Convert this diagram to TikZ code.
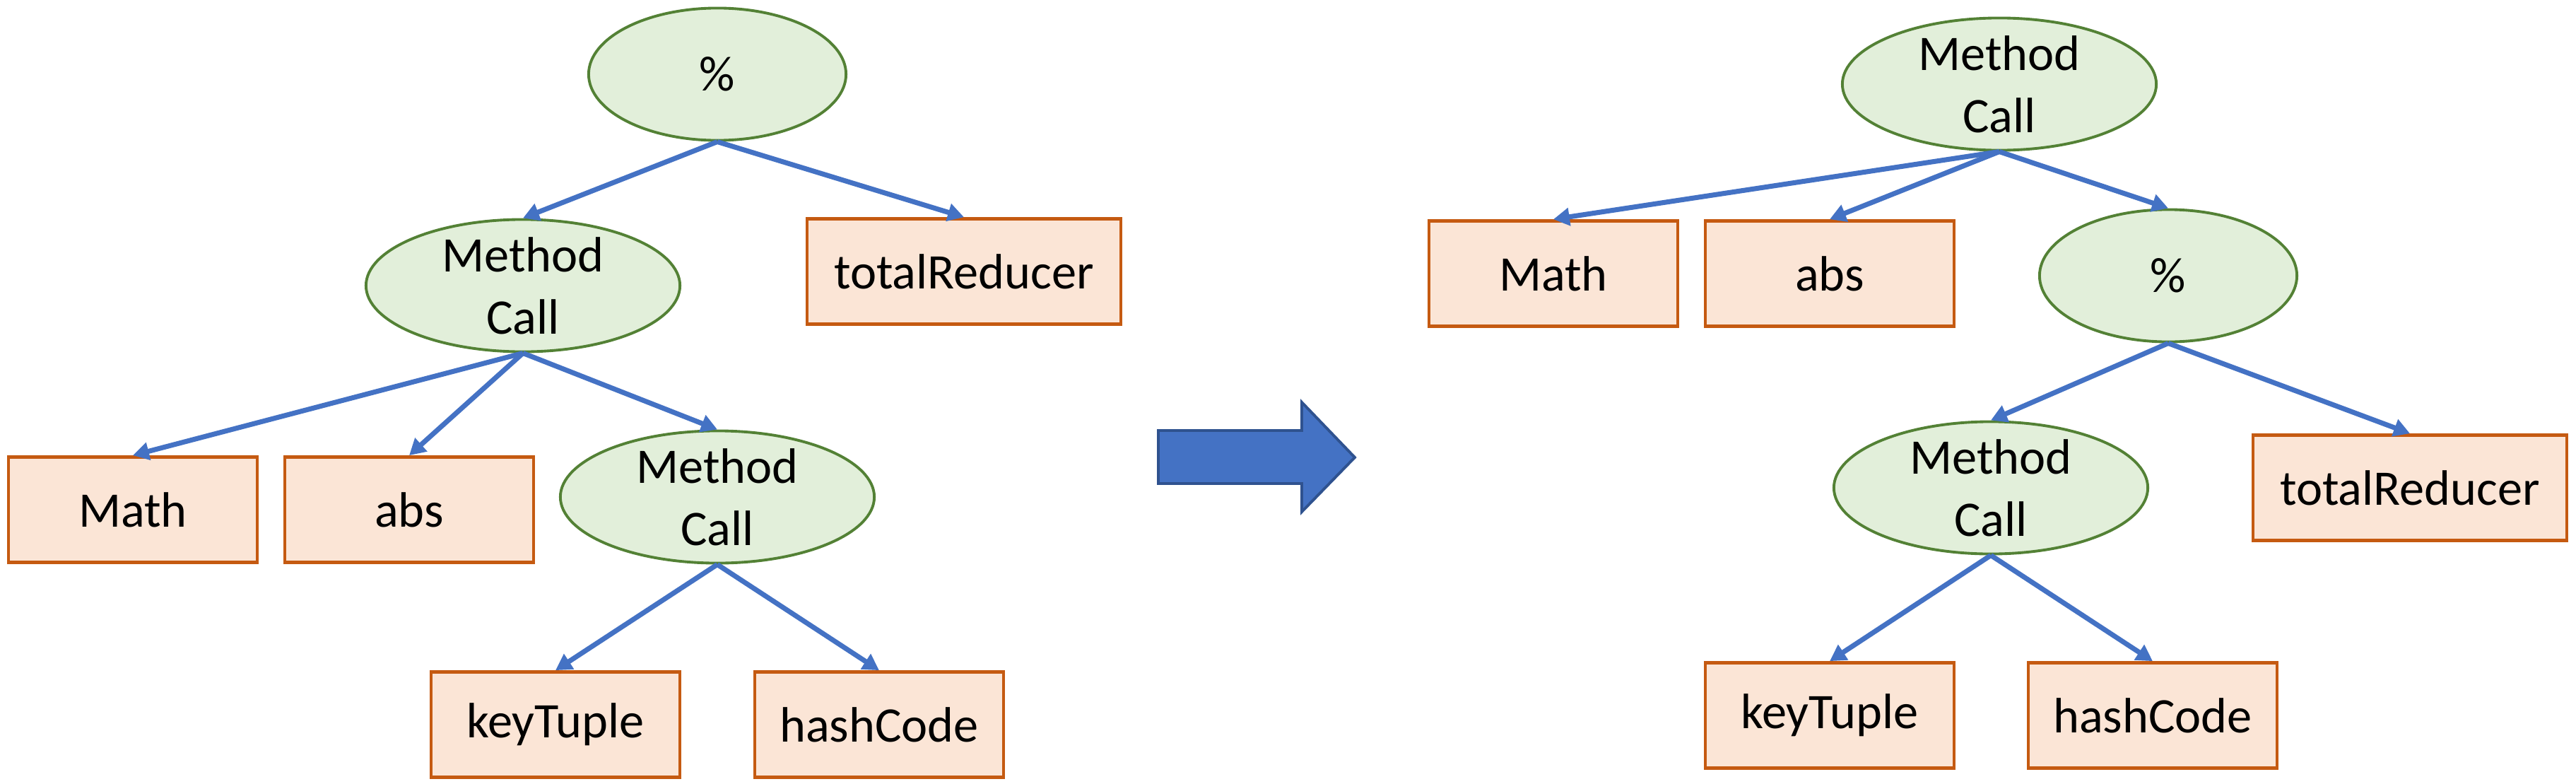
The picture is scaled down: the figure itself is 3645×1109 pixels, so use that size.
\documentclass[tikz,border=0pt]{standalone}
\usepackage{fontspec}
\setmainfont{Carlito}
\usetikzlibrary{arrows.meta}
\usetikzlibrary{shapes.geometric}
\definecolor{opfill}{HTML}{E2EFDA}
\definecolor{opline}{HTML}{538135}
\definecolor{leaffill}{HTML}{FBE5D6}
\definecolor{leafline}{HTML}{C55A11}
\definecolor{edgeblue}{HTML}{4472C4}
\definecolor{bigline}{HTML}{2F528F}

\begin{document}
\begin{tikzpicture}[x=0.01cm,y=-0.01cm,->,>={Triangle[length=6.5pt,width=7pt]}]
		\tikzset{op/.style = {shape=ellipse, draw=opline, fill=opfill, line width=1.1pt, minimum width=4.44cm, minimum height=1.87cm, inner sep=0pt},
			pct/.style = {op, minimum width=3.64cm},
			lbl/.style = {align=center, inner sep=0pt, font=\fontsize{20}{25}\selectfont},
			leaf/.style = {shape=rectangle, draw=leafline, fill=leaffill, line width=1.3pt, minimum width=3.52cm, minimum height=1.49cm, inner sep=0pt, font=\fontsize{20}{25}\selectfont},
			wideleaf/.style = {leaf, minimum width=4.44cm},
			edge/.style = {draw=edgeblue, line width=2pt}}
		\useasboundingbox (0,0) rectangle (3645,1109);
		
		% tree before
		\node[pct, label={[lbl]center:\%}] (PCTL) at (1015,105) {};
		\node[op, label={[lbl]center:{Method\\Call}}] (MCL1) at (740,404) {};
		\node[wideleaf] (TRL) at (1364,384) {totalReducer};
		\node[leaf] (MATHL) at (188,721) {Math};
		\node[leaf] (ABSL) at (579,721) {abs};
		\node[op, label={[lbl]center:{Method\\Call}}] (MCL2) at (1015,703) {};
		\node[leaf] (KEYL) at (786,1025) {keyTuple};
		\node[leaf] (HASHL) at (1244,1025) {hashCode};
		
		\draw[edge] (PCTL.south) -- (MCL1.north);
		\draw[edge] (PCTL.south) -- (TRL.north);
		\draw[edge] (MCL1.south) -- (MATHL.north);
		\draw[edge] (MCL1.south) -- (ABSL.north);
		\draw[edge] (MCL1.south) -- (MCL2.north);
		\draw[edge] (MCL2.south) -- (KEYL.north);
		\draw[edge] (MCL2.south) -- (HASHL.north);
		
		% big arrow
		\draw[-, draw=bigline, fill=edgeblue, line width=1.1pt] (1639,609) -- (1842,609) -- (1842,569) -- (1917,647) -- (1842,724) -- (1842,684) -- (1639,684) -- cycle;
		
		% tree after
		\node[op, label={[lbl]center:{Method\\Call}}] (MCR1) at (2829,119) {};
		\node[leaf] (MATHR) at (2198,387) {Math};
		\node[leaf] (ABSR) at (2589,387) {abs};
		\node[pct, label={[lbl]center:\%}] (PCTR) at (3068,390) {};
		\node[op, label={[lbl]center:{Method\\Call}}] (MCR2) at (2817,690) {};
		\node[wideleaf] (TRR) at (3410,690) {totalReducer};
		\node[leaf] (KEYR) at (2589,1012) {keyTuple};
		\node[leaf] (HASHR) at (3046,1012) {hashCode};
		
		\draw[edge] (MCR1.south) -- (MATHR.north);
		\draw[edge] (MCR1.south) -- (ABSR.north);
		\draw[edge] (MCR1.south) -- (PCTR.north);
		\draw[edge] (PCTR.south) -- (MCR2.north);
		\draw[edge] (PCTR.south) -- (TRR.north);
		\draw[edge] (MCR2.south) -- (KEYR.north);
		\draw[edge] (MCR2.south) -- (HASHR.north);
		
		\end{tikzpicture}
\end{document}
